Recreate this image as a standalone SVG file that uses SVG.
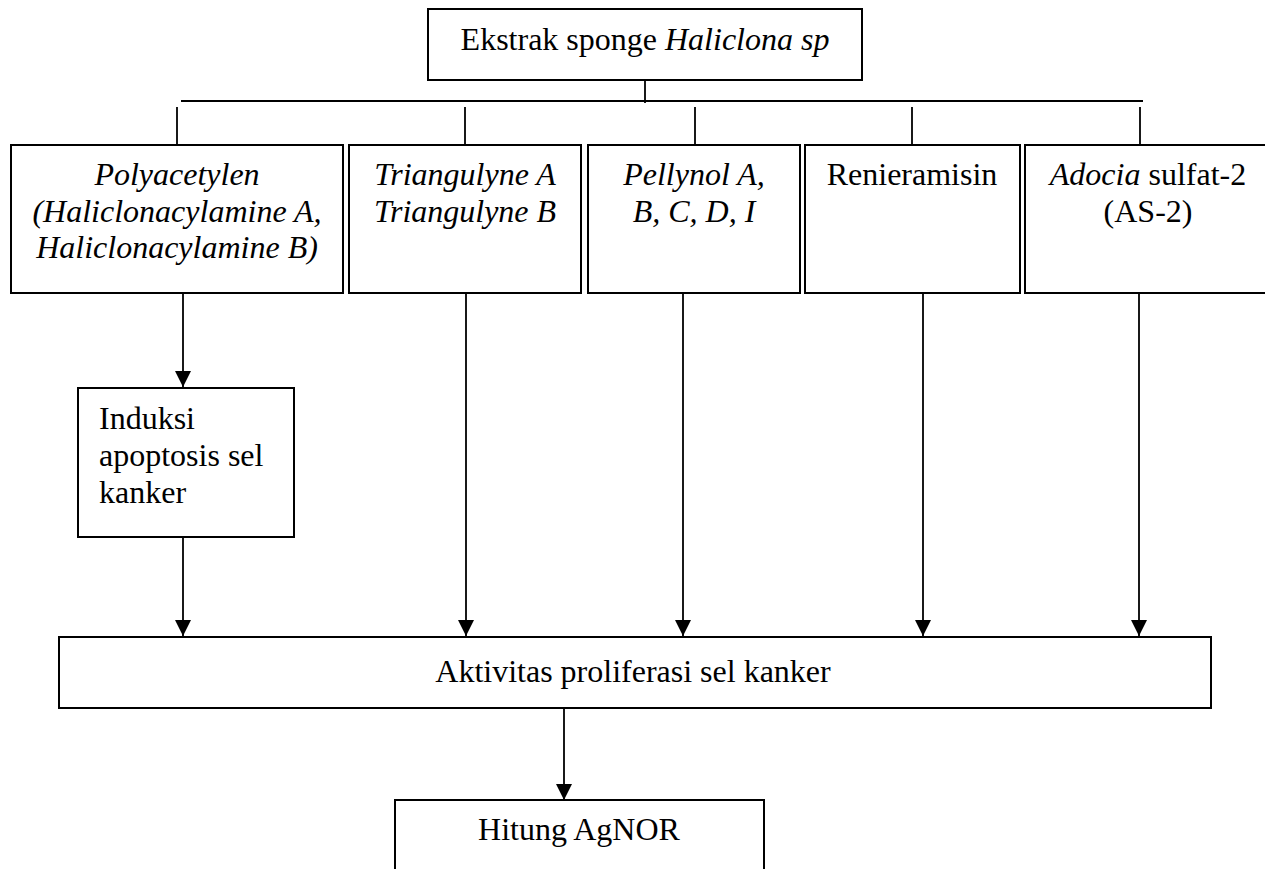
<svg xmlns="http://www.w3.org/2000/svg" width="1265" height="869" viewBox="0 0 1265 869">
<style>
.box{fill:#fff;stroke:#000;stroke-width:2}
.ln{fill:none;stroke:#000;stroke-width:1.8}
text{font-family:"Liberation Serif","Times New Roman",serif;font-size:32px;fill:#000}
.c{text-anchor:middle}
.i{font-style:italic}
</style>
<defs>
<marker id="ad" markerUnits="userSpaceOnUse" markerWidth="17" markerHeight="17" viewBox="0 0 16 16" refX="15" refY="8" orient="auto">
<path d="M0,0.5 L15,8 L0,15.5 Z" fill="#000"/>
</marker>
</defs>
<g id="connectors">
<line class="ln" x1="645" y1="80" x2="645" y2="103"/>
<line class="ln" x1="181" y1="101" x2="1143" y2="101"/>
<line class="ln" x1="177" y1="107" x2="177" y2="145"/>
<line class="ln" x1="465" y1="107" x2="465" y2="145"/>
<line class="ln" x1="695" y1="107" x2="695" y2="145"/>
<line class="ln" x1="912" y1="107" x2="912" y2="145"/>
<line class="ln" x1="1140" y1="107" x2="1140" y2="145"/>
<line class="ln" x1="183" y1="293" x2="183" y2="387" marker-end="url(#ad)"/>
<line class="ln" x1="183" y1="537" x2="183" y2="636" marker-end="url(#ad)"/>
<line class="ln" x1="466" y1="293" x2="466" y2="636" marker-end="url(#ad)"/>
<line class="ln" x1="683" y1="293" x2="683" y2="636" marker-end="url(#ad)"/>
<line class="ln" x1="923" y1="293" x2="923" y2="636" marker-end="url(#ad)"/>
<line class="ln" x1="1139" y1="293" x2="1139" y2="636" marker-end="url(#ad)"/>
<line class="ln" x1="564" y1="708" x2="564" y2="800" marker-end="url(#ad)"/>
</g>
<g id="n-ekstrak">
<rect class="box" x="428" y="9" width="434" height="71"/>
<text class="c" x="645" y="50">Ekstrak sponge <tspan class="i">Haliclona sp</tspan></text>
</g>
<g id="n-polyacetylen">
<rect class="box" x="11" y="145" width="332" height="148"/>
<text class="c i" x="177" y="185">Polyacetylen</text>
<text class="c i" x="177" y="222">(Haliclonacylamine A,</text>
<text class="c i" x="177" y="258">Haliclonacylamine B)</text>
</g>
<g id="n-triangulyne">
<rect class="box" x="349" y="145" width="232" height="148"/>
<text class="c i" x="465" y="185">Triangulyne A</text>
<text class="c i" x="465" y="222">Triangulyne B</text>
</g>
<g id="n-pellynol">
<rect class="box" x="588" y="145" width="212" height="148"/>
<text class="c i" x="694" y="185">Pellynol A,</text>
<text class="c i" x="694" y="222">B, C, D, I</text>
</g>
<g id="n-renieramisin">
<rect class="box" x="805" y="145" width="215" height="148"/>
<text class="c" x="912" y="185">Renieramisin</text>
</g>
<g id="n-adocia">
<rect class="box" x="1025" y="145" width="246" height="148"/>
<text class="c" x="1148" y="185"><tspan class="i">Adocia</tspan> sulfat-2</text>
<text class="c" x="1148" y="222">(AS-2)</text>
</g>
<g id="n-induksi">
<rect class="box" x="78" y="388" width="216" height="149"/>
<text x="99" y="429">Induksi</text>
<text x="99" y="466">apoptosis sel</text>
<text x="99" y="503">kanker</text>
</g>
<g id="n-aktivitas">
<rect class="box" x="59" y="637" width="1152" height="71"/>
<text class="c" x="633" y="682">Aktivitas proliferasi sel kanker</text>
</g>
<g id="n-hitung">
<rect class="box" x="395" y="800" width="369" height="80"/>
<text class="c" x="579" y="840">Hitung AgNOR</text>
</g>
</svg>
